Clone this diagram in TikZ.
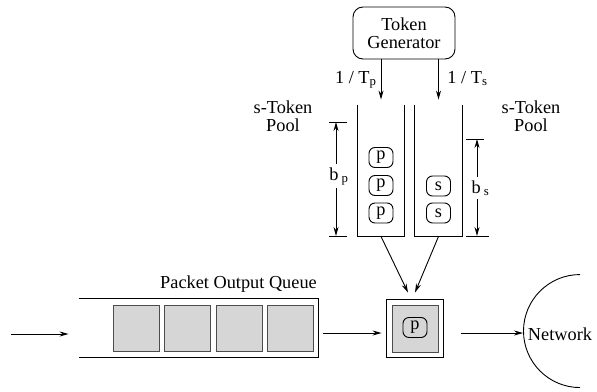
\documentclass[tikz,border=0pt]{standalone}
\usepackage{fontspec}
\setmainfont{Liberation Serif}
\usetikzlibrary{arrows.meta,calc}
\begin{document}
\begin{tikzpicture}[x=1pt,y=-1pt, line width=0.9pt,
  every node/.style={font=\fontsize{18.3}{18.5}\selectfont, inner sep=0pt},
  arr/.style={-{Stealth[length=9pt,width=5pt]}},
  dimarr/.style={{Stealth[length=9pt,width=5pt]}-{Stealth[length=9pt,width=5pt]}},
  tok/.style={draw, rounded corners=6pt, minimum width=24pt, minimum height=20pt},
  pkt/.style={draw=black!70, fill=black!16, line width=1pt, minimum width=46pt, minimum height=46pt}
]
\useasboundingbox (0,0) rectangle (597,391);

% token generator
\node[draw, rounded corners=10pt, minimum width=102pt, minimum height=52pt, align=center] (gen) at (404,33) {Token\\Generator};

% pools
\node[minimum width=46pt, minimum height=131pt] (poolp) at (381,170.5) {};
\node[minimum width=47pt, minimum height=131pt] (pools) at (438.5,170.5) {};
\draw (poolp.north west) -- (poolp.south west) -- (poolp.south east) -- (poolp.north east);
\draw (pools.north west) -- (pools.south west) -- (pools.south east) -- (pools.north east);

\node[tok] (p1) at (381,157.5) {p};
\node[tok] (p2) at (381,185.5) {p};
\node[tok] (p3) at (381,213) {p};
\node[tok] (s1) at (438.5,186) {s};
\node[tok] (s2) at (438.5,213) {s};

% generator arrows
\draw[arr] (gen.south -| poolp.center) -- ([yshift=5pt]poolp.north);
\draw[arr] (gen.south -| pools.center) -- ([yshift=5pt]pools.north);
\node[anchor=base east] (rp) at (377,83) {1 / T\textsubscript{p}};
\node[anchor=base west] (rs) at (447,83) {1 / T\textsubscript{s}};

% pool labels
\node[align=center] (lp) at (283,116) {s-Token\\Pool};
\node[align=center] (ls) at (531,116) {s-Token\\Pool};

% dimensions
\draw (329,122) -- (347,122);
\draw (329,236) -- (347,236);
\draw[dimarr] (336,122) -- (336,236);
\node[anchor=base, fill=white, inner sep=3pt] (bp) at (339,180) {b\,\textsubscript{p}};
\draw (466,139) -- (484,139);
\draw (466,236) -- (489,236);
\draw[dimarr] (477,139) -- (477,236);
\node[anchor=base, fill=white, inner sep=3pt] (bs) at (480.5,193) {b\,\textsubscript{s}};

% scheduler
\node[draw, minimum width=57pt, minimum height=58pt] (sched) at (414.5,328) {};
\node[pkt, minimum width=46pt, minimum height=47pt] (slot) at (415,328.5) {};
\node[tok] (tp) at (415,327.5) {p};

\draw[arr] (poolp.south) -- ([shift={(-6.5pt,6pt)}]sched.north);
\draw[arr] (pools.south) -- ([shift={(0.5pt,6pt)}]sched.north);

% queue
\node[minimum width=239pt, minimum height=58pt] (queue) at (198.5,328) {};
\draw (queue.north west) -- (queue.north east) -- (queue.south east) -- (queue.south west);
\node[pkt] (q1) at (136,328) {};
\node[pkt] (q2) at (187.5,328) {};
\node[pkt] (q3) at (239,328) {};
\node[pkt] (q4) at (290,328) {};
\node[anchor=base] (ql) at (238.5,288) {Packet Output Queue};

\coordinate (src) at (11,334);
\draw[arr] (src) -- ([shift={(-10pt,-6pt)}]queue.west);
\draw[arr] ([shift={(5pt,-5pt)}]queue.east) -- ([shift={(-4pt,-5pt)}]sched.west);

% network
\node[circle, minimum size=113pt] (net) at (580,331.5) {};
\draw (net.north) arc[start angle=90, end angle=270, radius=56.5pt];
\node (nett) at (560,334) {Network};
\draw[arr] ([shift={(18pt,-5pt)}]sched.east) -- ([yshift=-1.5pt]net.west);
\end{tikzpicture}
\end{document}
